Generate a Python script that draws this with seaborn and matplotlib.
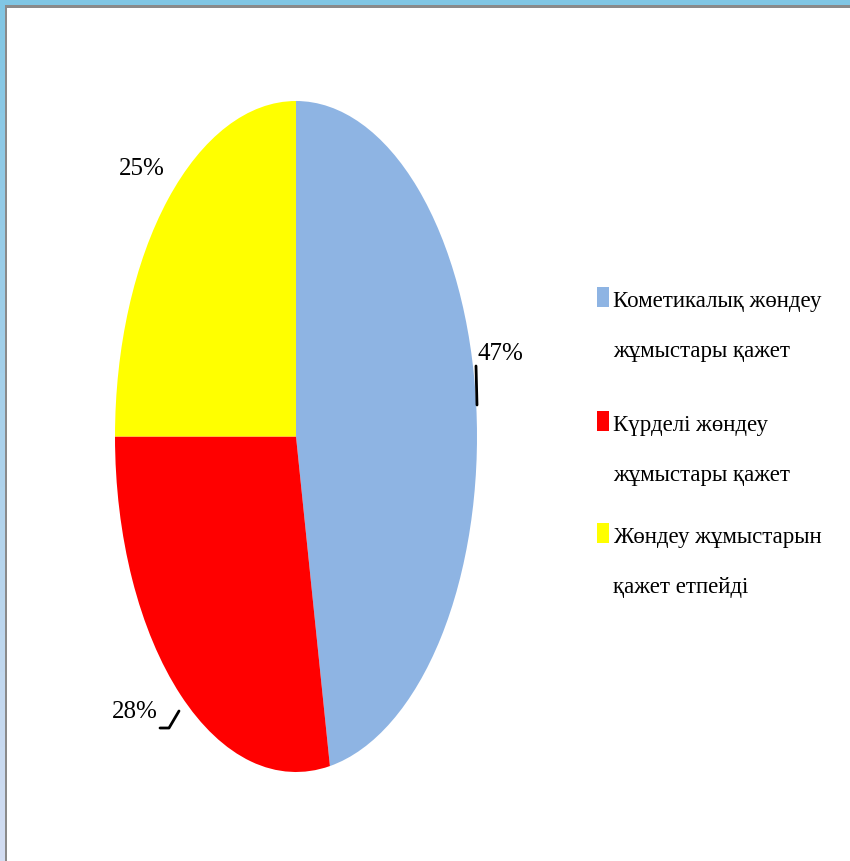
import numpy as np
import matplotlib
matplotlib.use("Agg")
import matplotlib.pyplot as plt
import seaborn as sns
from matplotlib.patches import Rectangle
from matplotlib.colors import LinearSegmentedColormap

categories = ["Кометикалық жөндеу\nжұмыстары қажет",
              "Күрделі жөндеу\nжұмыстары қажет",
              "Жөндеу жұмыстарын\nқажет етпейді"]
values = [47, 28, 25]
pct_labels = ["47%", "28%", "25%"]
colors = ["#8EB4E3", "#FF0000", "#FFFF00"]

sns.set_theme(style="white")
plt.rcParams["font.family"] = ["Liberation Serif", "DejaVu Serif"]
plt.rcParams["text.color"] = "black"

W, H = 850, 862
fig = plt.figure(figsize=(W / 100, H / 100), dpi=100)
fig.patch.set_facecolor("white")

# frame decoration
grad = np.linspace(0, 1, 256).reshape(-1, 1)
cmap = LinearSegmentedColormap.from_list("fr", ["#80C6E4", "#D3DDF2"])
axf = fig.add_axes([0, 0, 5 / W, 1])
axf.imshow(grad, aspect="auto", cmap=cmap, extent=[0, 1, 1, 0])
axf.axis("off")
fig.patches.append(Rectangle((0, 1 - 6 / H), 1, 6 / H, transform=fig.transFigure,
                             facecolor="#80C6E4", edgecolor="none", zorder=5))
fig.patches.append(Rectangle((5 / W, 0), 2 / W, 1 - 6 / H, transform=fig.transFigure,
                             facecolor="#8A8A8A", edgecolor="none", zorder=5))
fig.patches.append(Rectangle((5 / W, 1 - 9 / H), 1, 3 / H, transform=fig.transFigure,
                             facecolor="#8A8A8A", edgecolor="none", zorder=5))

# pie axes (stretched ellipse)
cx, cy, rx, ry = 296, 437.5, 181, 335.5
ax = fig.add_axes([(cx - rx) / W, (H - cy - ry) / H, 2 * rx / W, 2 * ry / H])
wedges, _ = ax.pie(values, colors=colors, startangle=90, counterclock=False,
                   wedgeprops=dict(linewidth=0))
ax.set_aspect("auto")
ax.set_xlim(-1, 1)
ax.set_ylim(-1, 1)
ax.axis("off")

def d(px, py):
    return (px - cx) / rx, (cy - py) / ry

pfs = 18
lab_pos = {"47%": d(500, 354), "28%": d(135, 712), "25%": d(142, 169)}
for lab in pct_labels:
    x, y = lab_pos[lab]
    ax.text(x, y, lab, ha="center", va="center", fontsize=pfs, color="black", clip_on=False)

# leader lines
x1, y1 = d(476, 367); x2, y2 = d(477, 406)
ax.plot([x1, x2], [y1, y2], color="black", lw=2, clip_on=False)
p = [d(160, 729), d(169, 729), d(179, 712)]
ax.plot([q[0] for q in p], [q[1] for q in p], color="black", lw=2, clip_on=False)

# legend (swatch aligned with first text line, as in the reference)
lfs = 16.5
first_lines = [299, 423, 535]
for cat, col, yl in zip(categories, colors, first_lines):
    fig.patches.append(Rectangle((597 / W, 1 - (yl + 9) / H), 12 / W, 20 / H,
                                 transform=fig.transFigure, facecolor=col,
                                 edgecolor="none"))
    fig.text(613 / W, 1 - (yl - 8) / H, cat, ha="left", va="top", fontsize=lfs,
             color="black", linespacing=2.8)

fig.savefig("out.png", dpi=100, facecolor="white")
